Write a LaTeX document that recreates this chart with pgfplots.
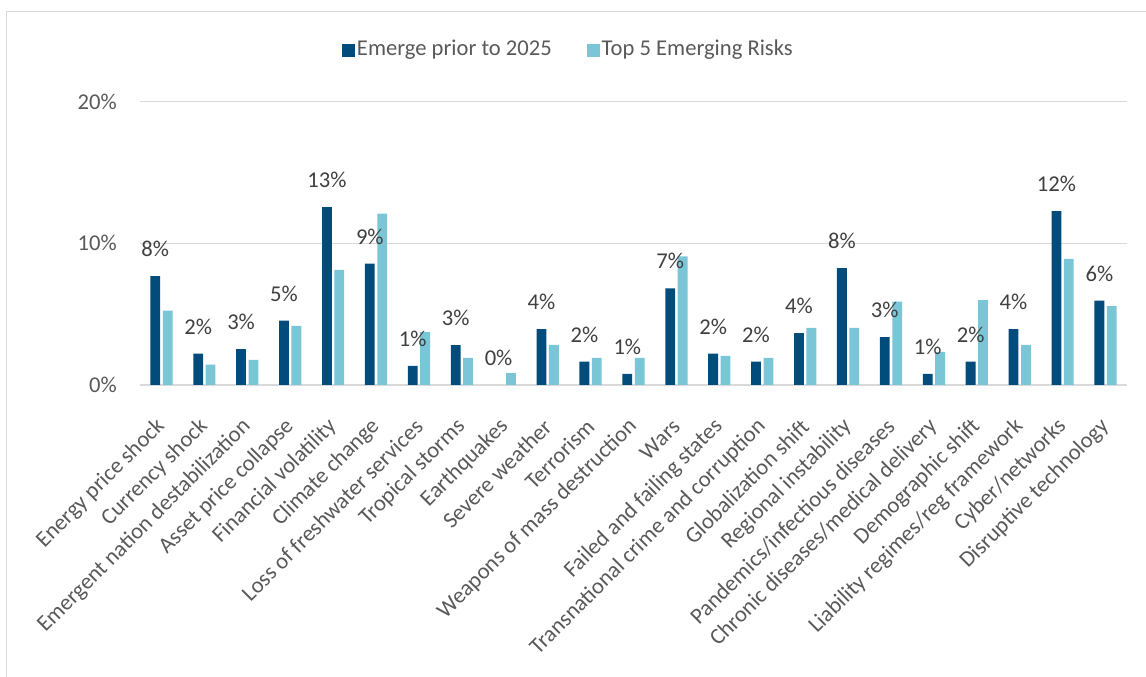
\documentclass[border=0pt]{standalone}
\usepackage{fontspec}
\setmainfont{Carlito}
\usepackage{pgfplots}
\pgfplotsset{compat=1.18}
\definecolor{darkb}{RGB}{2,76,124}
\definecolor{lightb}{RGB}{122,197,214}
\definecolor{txt}{RGB}{89,89,89}
\definecolor{lbl}{RGB}{64,64,64}
\definecolor{gridc}{RGB}{217,217,217}
\newcommand{\cf}{\fontsize{22.6bp}{27bp}\selectfont}
\begin{document}
\cf
\begin{tikzpicture}
\useasboundingbox (0,0) rectangle (1146bp,677bp);
\draw[gridc, line width=1.3bp] (6.7bp,0) -- (6.7bp,665.3bp) -- (1146bp,665.3bp);
\begin{axis}[
  at={(140bp,292bp)}, anchor=south west,
  scale only axis, width=987bp, height=283.3bp,
  xmin=-0.5, xmax=22.5, ymin=0, ymax=20,
  ybar=2.6bp, bar width=9.8bp,
  axis line style={draw=none},
  major tick length=0pt,
  ytick={0,10,20}, yticklabels={0\%,10\%,20\%},
  ymajorgrids, grid style={gridc, line width=1.3bp},
  xtick={0,...,22},
  xticklabels={Energy price shock,Currency shock,Emergent nation destabilization,Asset price collapse,Financial volatility,Climate change,Loss of freshwater services,Tropical storms,Earthquakes,Severe weather,Terrorism,Weapons of mass destruction,Wars,Failed and failing states,Transnational crime and corruption,Globalization shift,Regional instability,Pandemics/infectious diseases,Chronic diseases/medical delivery,Demographic shift,Liability regimes/reg framework,Cyber/networks,Disruptive technology},
  xticklabel style={xshift=0bp,yshift=-38bp,rotate=45,anchor=east,inner sep=0pt},
  yticklabel style={anchor=east,inner sep=0pt,xshift=-23bp},
  tick label style={font=\cf, text=txt},
  legend style={at={(axis description cs:0.434,1.1836)}, anchor=center, draw=none, fill=none,
    font=\cf, text=txt, inner sep=0pt,
    /tikz/every even column/.append style={column sep=33bp}},
  legend columns=2,
  legend image code/.code={\fill[#1] (0bp,-7bp) rectangle (13bp,6bp);},
]
\addplot[fill=darkb, draw=none,
  nodes near coords={\pgfmathprintnumber[fixed,precision=0,assume math mode=true]{\pgfplotspointmeta}\%},
  nodes near coords style={anchor=south, inner sep=0pt, yshift=19bp, font=\cf, text=lbl}]
  coordinates {(0,7.68) (1,2.22) (2,2.53) (3,4.54) (4,12.55) (5,8.56) (6,1.35) (7,2.81) (8,0) (9,3.95) (10,1.65) (11,0.78) (12,6.83) (13,2.22) (14,1.65) (15,3.66) (16,8.25) (17,3.38) (18,0.78) (19,1.65) (20,3.95) (21,12.27) (22,5.96)};
\addlegendentry{Emerge prior to 2025}
\addplot[fill=lightb, draw=none]
  coordinates {(0,5.25) (1,1.44) (2,1.77) (3,4.18) (4,8.13) (5,12.10) (6,3.74) (7,1.91) (8,0.83) (9,2.84) (10,1.91) (11,1.91) (12,9.08) (13,2.06) (14,1.91) (15,4.04) (16,4.04) (17,5.89) (18,2.34) (19,6.0) (20,2.84) (21,8.91) (22,5.56)};
\addlegendentry{Top 5 Emerging Risks}
\end{axis}
\end{tikzpicture}
\end{document}
